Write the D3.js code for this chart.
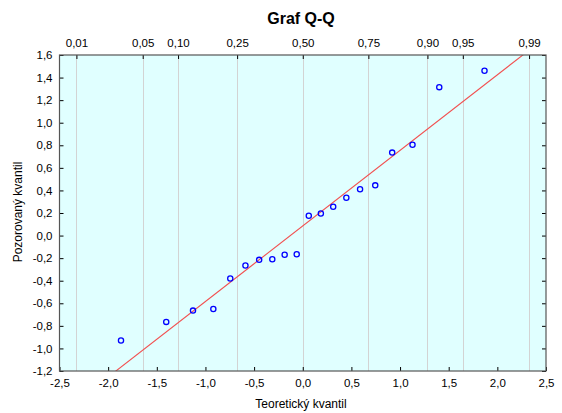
<!DOCTYPE html>
<html>
<head>
<meta charset="utf-8">
<script src="https://cdn.jsdelivr.net/npm/d3@7/dist/d3.min.js"></script>
<style>
  html, body { margin: 0; padding: 0; background: #ffffff; }
  svg { display: block; }
  text { font-family: "Liberation Sans", Arial, sans-serif; fill: #000; }
</style>
</head>
<body>
<svg id="chart" width="562" height="413"></svg>
<script>
// Normal quantiles of the sample (x) against sorted observed values (y)
const theoretical = [-1.868, -1.403, -1.128, -0.919, -0.745, -0.589, -0.448, -0.313, -0.186, -0.062,
                      0.062,  0.186,  0.313,  0.448,  0.589,  0.745,  0.919,  1.128,  1.403,  1.868];
const observed    = [-0.93, -0.765, -0.665, -0.65, -0.38, -0.265, -0.215, -0.21, -0.17, -0.165,
                      0.175,  0.195,  0.255,  0.335, 0.41,  0.445,  0.735,  0.805, 1.315, 1.46];

// Reference line y = intercept + slope * x
const lineIntercept = 0.0855;
const lineSlope = 0.6695;

// Bottom / left tick values
const xTicks = [-2.5, -2.0, -1.5, -1.0, -0.5, 0.0, 0.5, 1.0, 1.5, 2.0, 2.5];
const yTicks = [-1.2, -1.0, -0.8, -0.6, -0.4, -0.2, 0.0, 0.2, 0.4, 0.6, 0.8, 1.0, 1.2, 1.4, 1.6];

// Top axis: cumulative probabilities and their standard normal quantiles
const probLabels = ["0,01", "0,05", "0,10", "0,25", "0,50", "0,75", "0,90", "0,95", "0,99"];
const probQuantiles = [-2.326, -1.645, -1.2816, -0.6745, 0, 0.6745, 1.2816, 1.645, 2.326];

const svg = d3.select("#chart");
const L = 59.5, R = 546, T = 55, B = 371;

const x = d3.scaleLinear().domain([-2.5, 2.5]).range([L, R]);
const y = d3.scaleLinear().domain([-1.2, 1.6]).range([B, T]);

const fmt = v => d3.format(".1f")(v).replace(".", ",").replace("−", "-");

// plot background
svg.append("rect")
  .attr("x", L).attr("y", T)
  .attr("width", R - L).attr("height", B - T)
  .attr("fill", "#e0ffff");

// vertical grid at probability quantiles
svg.append("g").selectAll("line")
  .data(probQuantiles)
  .join("line")
  .attr("x1", d => Math.round(x(d)) + 0.5).attr("x2", d => Math.round(x(d)) + 0.5)
  .attr("y1", T).attr("y2", B)
  .attr("stroke", "#d3d3d3")
  .attr("stroke-width", 1);

// clip region for the reference line
svg.append("clipPath").attr("id", "plotClip")
  .append("rect").attr("x", L).attr("y", T).attr("width", R - L).attr("height", B - T);

// reference line
const xs = [-2.5, 2.5];
svg.append("path")
  .datum(xs)
  .attr("clip-path", "url(#plotClip)")
  .attr("d", d3.line().x(d => x(d)).y(d => y(lineIntercept + lineSlope * d)))
  .attr("fill", "none")
  .attr("stroke", "#f25050")
  .attr("stroke-width", 1.1);

// points
svg.append("g").selectAll("circle")
  .data(theoretical.map((t, i) => [t, observed[i]]))
  .join("circle")
  .attr("cx", d => x(d[0]))
  .attr("cy", d => y(d[1]))
  .attr("r", 2.6)
  .attr("fill", "none")
  .attr("stroke", "#0000ff")
  .attr("stroke-width", 1.3);

// axes with inward ticks
const tickLen = 4;
const styleAxis = g => {
  g.select(".domain").remove();
  g.selectAll(".tick line").attr("stroke", "#000");
  g.selectAll(".tick text")
    .style("font-family", '"Liberation Sans", Arial, sans-serif')
    .style("font-size", "11.5px")
    .attr("fill", "#000");
};

svg.append("g")
  .attr("transform", `translate(0,${B})`)
  .call(d3.axisBottom(x).tickValues(xTicks).tickFormat(fmt).tickSizeInner(-tickLen).tickSizeOuter(0).tickPadding(8))
  .call(styleAxis);

svg.append("g")
  .attr("transform", `translate(${L},0)`)
  .call(d3.axisLeft(y).tickValues(yTicks).tickFormat(fmt).tickSizeInner(-tickLen).tickSizeOuter(0).tickPadding(7))
  .call(styleAxis);

svg.append("g")
  .attr("transform", `translate(${R},0)`)
  .call(d3.axisRight(y).tickValues(yTicks).tickFormat("").tickSizeInner(-tickLen).tickSizeOuter(0))
  .call(styleAxis);

svg.append("g")
  .attr("transform", `translate(0,${T})`)
  .call(d3.axisTop(x).tickValues(probQuantiles).tickFormat((d, i) => probLabels[i]).tickSizeInner(-tickLen).tickSizeOuter(0).tickPadding(8))
  .call(styleAxis);

// frame
svg.append("rect")
  .attr("x", L).attr("y", T)
  .attr("width", R - L).attr("height", B - T)
  .attr("fill", "none")
  .attr("stroke", "#555")
  .attr("stroke-width", 1.2);

// titles
svg.append("text")
  .attr("x", 301).attr("y", 24)
  .attr("text-anchor", "middle")
  .style("font-size", "16px").style("font-weight", "bold")
  .text("Graf Q-Q");

svg.append("text")
  .attr("x", 301).attr("y", 408)
  .attr("text-anchor", "middle")
  .style("font-size", "12px")
  .text("Teoretický kvantil");

svg.append("text")
  .attr("transform", "translate(22,212) rotate(-90)")
  .attr("text-anchor", "middle")
  .style("font-size", "12px")
  .text("Pozorovaný kvantil");
</script>
</body>
</html>
